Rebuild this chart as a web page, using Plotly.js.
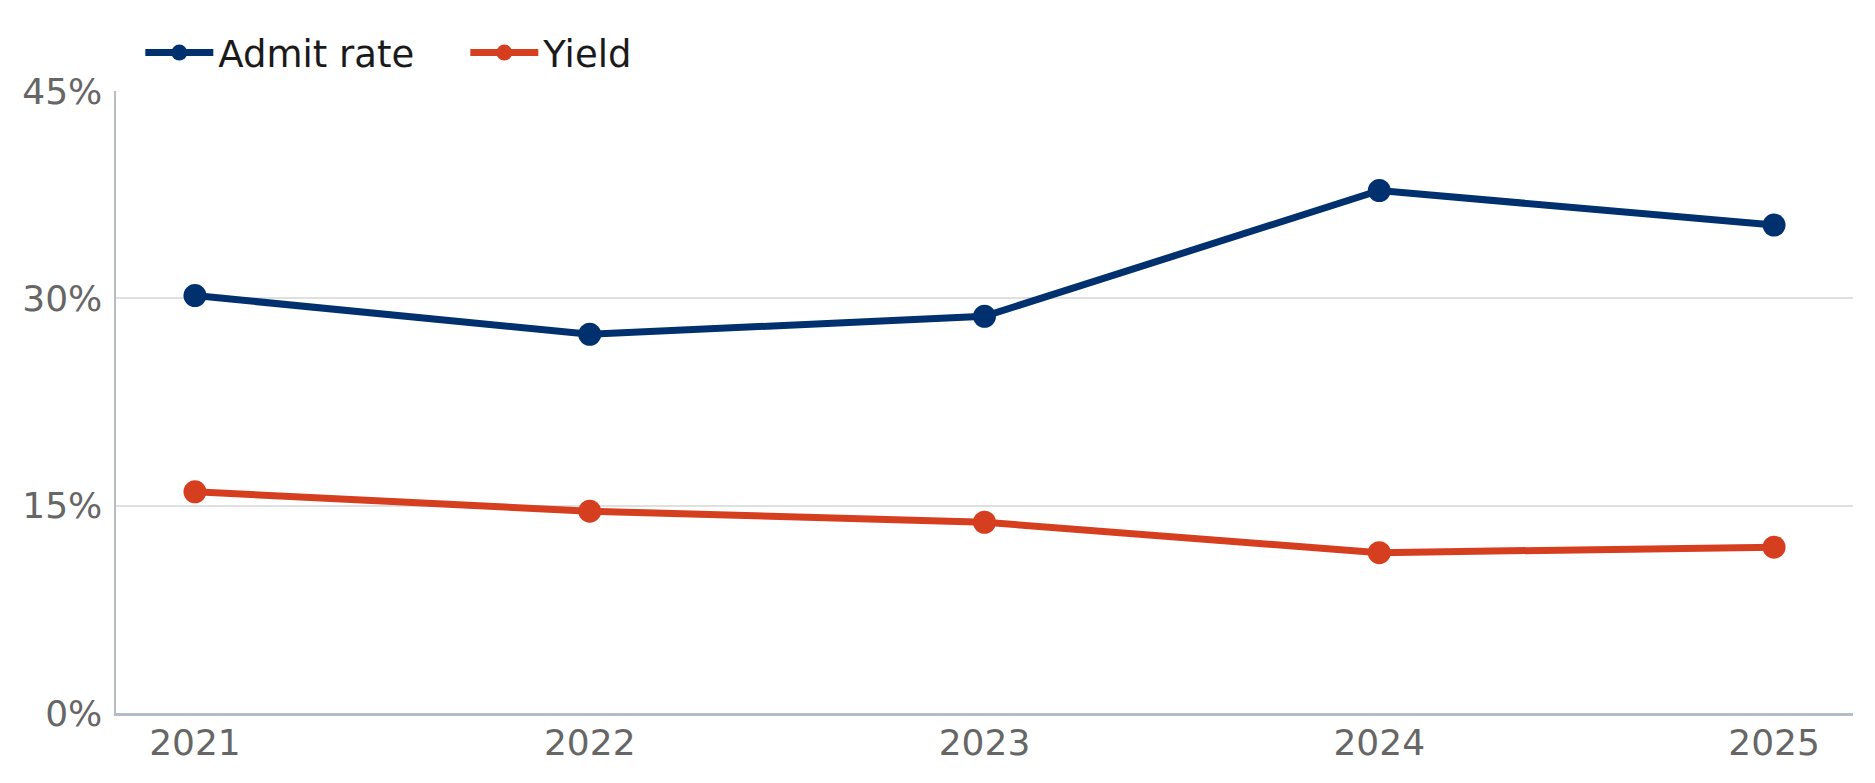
<!DOCTYPE html>
<html>
<head>
<meta charset="utf-8">
<script src="https://cdn.plot.ly/plotly-3.0.1.min.js"></script>
<style>
  html, body { margin: 0; padding: 0; background: #fff; }
  #chart { width: 1875px; height: 783px; }
</style>
</head>
<body>
<div id="chart"></div>
<script>
// years on the x axis
const years = ['2021', '2022', '2023', '2024', '2025'];
// percentages
const admitRate = [30.2, 27.4, 28.7, 37.8, 35.3];
const yieldRate = [16.0, 14.6, 13.8, 11.6, 12.0];
// y ticks
const yTicks = [0, 15, 30, 45];
const yTickText = ['0%', '15%', '30%', '45%'];

const navy = '#00306e';
const red = '#d53f1f';

function lineTrace(name, values, color) {
  return {
    x: years,
    y: values,
    name: name,
    type: 'scatter',
    mode: 'lines+markers',
    line: { color: color, width: 7 },
    marker: { color: color, size: 23 },
    hoverinfo: 'skip'
  };
}

const traces = [
  lineTrace('Admit rate', admitRate, navy),
  lineTrace('Yield', yieldRate, red)
];

const layout = {
  width: 1875,
  height: 783,
  paper_bgcolor: '#ffffff',
  plot_bgcolor: '#ffffff',
  font: { family: 'DejaVu Sans, sans-serif', size: 36, color: '#666666' },
  margin: { l: 116, r: 22, t: 91, b: 70 },
  showlegend: true,
  legend: {
    orientation: 'h',
    x: 0.014,
    xanchor: 'left',
    y: 1.061,
    yanchor: 'middle',
    itemwidth: 68,
    entrywidth: 242,
    entrywidthmode: 'pixels',
    font: { family: 'DejaVu Sans, sans-serif', size: 37, color: '#1a1a1a' },
    bgcolor: 'rgba(0,0,0,0)'
  },
  xaxis: {
    type: 'category',
    range: [-0.2, 4.2],
    showgrid: false,
    zeroline: false,
    showline: true,
    linecolor: '#b5bcc6',
    linewidth: 2.5,
    ticks: '',
    ticklabelstandoff: -4,
    tickfont: { size: 36, color: '#666666' },
    fixedrange: true
  },
  yaxis: {
    range: [0, 45],
    tickvals: yTicks,
    ticktext: yTickText,
    showgrid: true,
    gridcolor: '#e0e0e0',
    gridwidth: 2,
    zeroline: false,
    showline: true,
    linecolor: '#b5bcc6',
    linewidth: 2.5,
    ticks: '',
    ticklabelstandoff: 4,
    tickfont: { size: 36, color: '#666666' },
    fixedrange: true
  }
};

Plotly.newPlot('chart', traces, layout, { displayModeBar: false, staticPlot: true });
</script>
</body>
</html>
